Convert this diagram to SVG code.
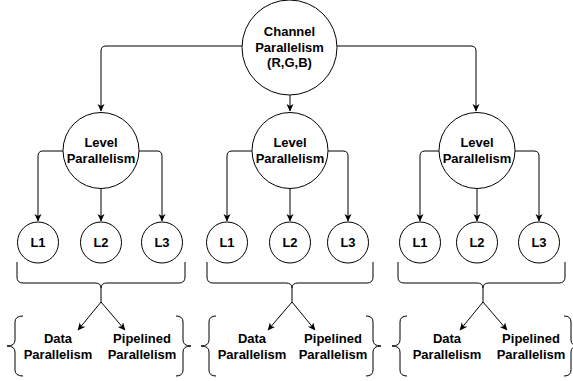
<svg xmlns="http://www.w3.org/2000/svg" width="573" height="381" viewBox="0 0 573 381">
<defs>
<marker id="arr" markerWidth="8" markerHeight="8" refX="7" refY="3.5" orient="auto" markerUnits="userSpaceOnUse">
<path d="M0,0 L7.5,3.5 L0,7 L2,3.5 z" fill="#000"/>
</marker>
<style>
.n{fill:#fff;stroke:#000;stroke-width:1}
.t{font-family:"Liberation Sans",Arial,sans-serif;font-weight:bold;font-size:13px;text-anchor:middle;fill:#000}
.c{fill:none;stroke:#000;stroke-width:1}
.a{fill:none;stroke:#000;stroke-width:1;marker-end:url(#arr)}
</style>
</defs>
<rect width="573" height="381" fill="#fff"/>
<g id="connectors">
<path class="a" d="M242,46 L106,46 Q101,46 101,51 L101,111"/>
<path class="a" d="M337,46 L471,46 Q476,46 476,51 L476,111"/>
<path class="a" d="M290,95 L290,111"/>
<path class="a" d="M63,151 L43,151 Q38,151 38,156 L38,221"/>
<path class="a" d="M101,188 L101,221"/>
<path class="a" d="M139,151 L157,151 Q162,151 162,156 L162,221"/>
<path class="a" d="M252,151 L232,151 Q227,151 227,156 L227,221"/>
<path class="a" d="M290,188 L290,221"/>
<path class="a" d="M328,151 L343,151 Q348,151 348,156 L348,221"/>
<path class="a" d="M439,151 L425,151 Q420,151 420,156 L420,221"/>
<path class="a" d="M477,188 L477,221"/>
<path class="a" d="M515,151 L534,151 Q539,151 539,156 L539,221"/>
<path class="c" d="M101,288 L101,302"/>
<path class="a" d="M101,302 L78,330"/>
<path class="a" d="M101,302 L125,330"/>
<path class="c" d="M292,288 L292,302"/>
<path class="a" d="M292,302 L268,330"/>
<path class="a" d="M292,302 L315,330"/>
<path class="c" d="M483,288 L483,302"/>
<path class="a" d="M483,302 L460,330"/>
<path class="a" d="M483,302 L507,330"/>
</g>
<g id="braces">
<path class="c" d="M17,262 L17,277 Q17,283 23,283 L95,283 Q101,283 101,288 Q101,283 107,283 L179,283 Q185,283 185,277 L185,262"/>
<path class="c" d="M207,262 L207,277 Q207,283 213,283 L286,283 Q292,283 292,288 Q292,283 298,283 L367,283 Q373,283 373,277 L373,262"/>
<path class="c" d="M398,262 L398,277 Q398,283 404,283 L477,283 Q483,283 483,288 Q483,283 489,283 L559,283 Q565,283 565,277 L565,262"/>
<path class="c" d="M23,316 Q15,316 15,322 L15,340 Q15,346 7,346 Q15,346 15,352 L15,370 Q15,376 23,376"/>
<path class="c" d="M176,316 Q183,316 183,322 L183,340 Q183,346 191,346 Q183,346 183,352 L183,370 Q183,376 176,376"/>
<path class="c" d="M216,316 Q209,316 209,322 L209,340 Q209,346 201,346 Q209,346 209,352 L209,370 Q209,376 216,376"/>
<path class="c" d="M366,316 Q373,316 373,322 L373,340 Q373,346 381,346 Q373,346 373,352 L373,370 Q373,376 366,376"/>
<path class="c" d="M407,316 Q400,316 400,322 L400,340 Q400,346 392,346 Q400,346 400,352 L400,370 Q400,376 407,376"/>
<path class="c" d="M564,316 Q571,316 571,322 L571,340 Q571,346 579,346 Q571,346 571,352 L571,370 Q571,376 564,376"/>
</g>
<g id="channel">
<circle class="n" cx="289.5" cy="47.5" r="47.5"/>
<text class="t" x="289.5" y="36">Channel</text>
<text class="t" x="289.5" y="52">Parallelism</text>
<text class="t" x="289.5" y="67">(R,G,B)</text>
</g>
<g id="level1"><circle class="n" cx="101" cy="150.5" r="38"/><text class="t" x="101" y="147">Level</text><text class="t" x="101" y="163">Parallelism</text></g>
<g id="level2"><circle class="n" cx="290" cy="150.5" r="38"/><text class="t" x="290" y="147">Level</text><text class="t" x="290" y="163">Parallelism</text></g>
<g id="level3"><circle class="n" cx="477" cy="150.5" r="38"/><text class="t" x="477" y="147">Level</text><text class="t" x="477" y="163">Parallelism</text></g>
<g id="g1l1"><circle class="n" cx="38" cy="242.5" r="20.5"/><text class="t" x="38" y="247">L1</text></g>
<g id="g1l2"><circle class="n" cx="101" cy="242.5" r="20.5"/><text class="t" x="101" y="247">L2</text></g>
<g id="g1l3"><circle class="n" cx="162" cy="242.5" r="20.5"/><text class="t" x="162" y="247">L3</text></g>
<g id="g2l1"><circle class="n" cx="227" cy="242.5" r="20.5"/><text class="t" x="227" y="247">L1</text></g>
<g id="g2l2"><circle class="n" cx="290" cy="242.5" r="20.5"/><text class="t" x="290" y="247">L2</text></g>
<g id="g2l3"><circle class="n" cx="348" cy="242.5" r="20.5"/><text class="t" x="348" y="247">L3</text></g>
<g id="g3l1"><circle class="n" cx="420" cy="242.5" r="20.5"/><text class="t" x="420" y="247">L1</text></g>
<g id="g3l2"><circle class="n" cx="477" cy="242.5" r="20.5"/><text class="t" x="477" y="247">L2</text></g>
<g id="g3l3"><circle class="n" cx="539" cy="242.5" r="20.5"/><text class="t" x="539" y="247">L3</text></g>
<g id="g1data"><text class="t" x="58" y="343">Data</text><text class="t" x="58" y="359">Parallelism</text></g>
<g id="g1pipe"><text class="t" x="142" y="343">Pipelined</text><text class="t" x="142" y="359">Parallelism</text></g>
<g id="g2data"><text class="t" x="252" y="343">Data</text><text class="t" x="252" y="359">Parallelism</text></g>
<g id="g2pipe"><text class="t" x="333" y="343">Pipelined</text><text class="t" x="333" y="359">Parallelism</text></g>
<g id="g3data"><text class="t" x="447" y="343">Data</text><text class="t" x="447" y="359">Parallelism</text></g>
<g id="g3pipe"><text class="t" x="531" y="343">Pipelined</text><text class="t" x="531" y="359">Parallelism</text></g>
</svg>
